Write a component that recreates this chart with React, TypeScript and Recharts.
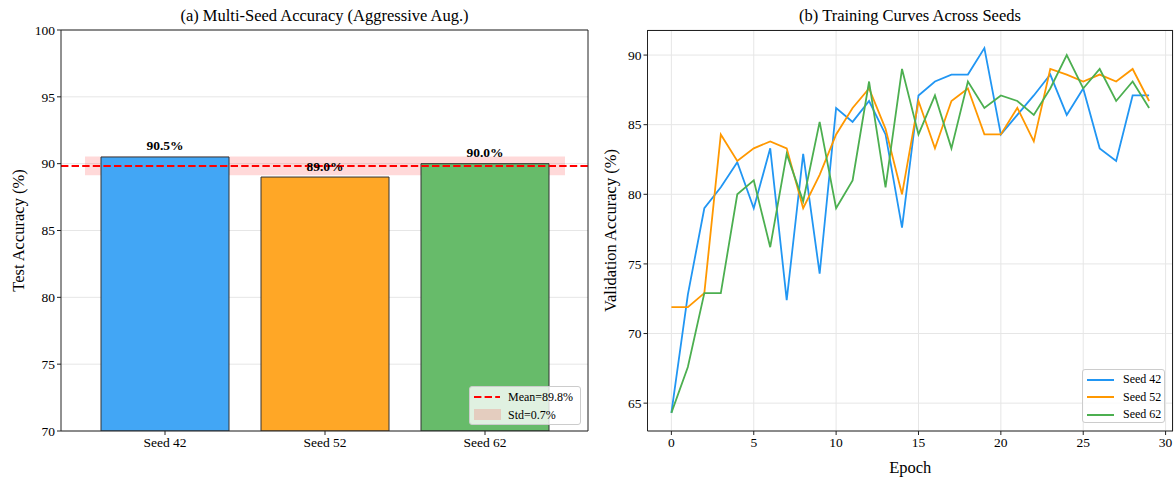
import React from 'react';
import {
  BarChart, Bar, LineChart, Line, XAxis, YAxis, CartesianGrid,
  ReferenceLine, ReferenceArea, LabelList, Cell, Legend,
} from 'recharts';

const seeds = ['Seed 42', 'Seed 52', 'Seed 62'];
const testAcc = [90.5, 89.0, 90.0];
const meanAcc = 89.83;
const stdAcc = 0.7;

const epochs = [0, 1, 2, 3, 4, 5, 6, 7, 8, 9, 10, 11, 12, 13, 14, 15, 16, 17, 18, 19, 20, 21, 22, 23, 24, 25, 26, 27, 28, 29];
const seed42 = [64.3, 72.8, 79.0, 80.5, 82.3, 79.0, 83.3, 72.4, 82.9, 74.3, 86.2, 85.2, 86.7, 84.3, 77.6, 87.1, 88.1, 88.6, 88.6, 90.5, 84.3, 85.7, 87.1, 88.6, 85.7, 87.6, 83.3, 82.4, 87.1, 87.1];
const seed52 = [71.9, 71.9, 72.9, 84.3, 82.4, 83.3, 83.8, 83.3, 79.0, 81.4, 84.3, 86.2, 87.6, 84.7, 80.0, 86.7, 83.3, 86.7, 87.6, 84.3, 84.3, 86.2, 83.8, 89.0, 88.6, 88.1, 88.6, 88.1, 89.0, 86.7];
const seed62 = [64.3, 67.6, 72.9, 72.9, 80.0, 81.0, 76.2, 82.9, 79.5, 85.2, 79.0, 81.0, 88.1, 80.5, 89.0, 84.3, 87.1, 83.3, 88.1, 86.2, 87.1, 86.7, 85.7, 87.6, 90.0, 87.6, 89.0, 86.7, 88.1, 86.2];

const accTicks = [70, 75, 80, 85, 90, 95, 100];
const valTicks = [65, 70, 75, 80, 85, 90];
const epochTicks = [0, 5, 10, 15, 20, 25, 30];

const barColors = ['#42A6F5', '#FFA726', '#67BB6A'];
const lineColors = ['#2196F3', '#FF9800', '#4CAF50'];

const FONT = "'Liberation Serif', 'Times New Roman', serif";
const AXIS = '#222';
const GRID = '#e6e6e6';

const barData = seeds.map((s, i) => ({ seed: s, acc: testAcc[i] }));
const curveData = epochs.map((e, i) => ({ epoch: e, s42: seed42[i], s52: seed52[i], s62: seed62[i] }));

const tickStyle = { fontSize: 13.5, fill: '#000', fontFamily: FONT };

const MeanStdLegend = () => (
  <div style={{
    width: 110, height: 37, border: '1px solid #ccc', borderRadius: 3,
    background: 'rgba(255,255,255,0.8)', fontFamily: FONT, fontSize: 12, color: '#000',
    boxSizing: 'content-box',
  }}>
    <div style={{ display: 'flex', alignItems: 'center', height: 18, marginTop: 1 }}>
      <svg width={38} height={10}>
        <line x1={4} x2={30} y1={5} y2={5} stroke="#ff0000" strokeWidth={2} strokeDasharray="7.4 3.2" />
      </svg>
      <span>Mean=89.8%</span>
    </div>
    <div style={{ display: 'flex', alignItems: 'center', height: 18 }}>
      <svg width={38} height={12}>
        <rect x={4} y={0} width={27} height={11} fill="rgba(255,0,0,0.15)" />
      </svg>
      <span>Std=0.7%</span>
    </div>
  </div>
);

const SeedLegend = () => (
  <div style={{
    width: 83, height: 54, border: '1px solid #ccc', borderRadius: 3,
    background: 'rgba(255,255,255,0.8)', fontFamily: FONT, fontSize: 12, color: '#000',
    paddingTop: 1, boxSizing: 'border-box',
  }}>
    {seeds.map((s, i) => (
      <div key={s} style={{ display: 'flex', alignItems: 'center', height: 17.5 }}>
        <svg width={40} height={6}>
          <line x1={4} x2={31} y1={3} y2={3} stroke={lineColors[i]} strokeWidth={2} />
        </svg>
        <span>{s}</span>
      </div>
    ))}
  </div>
);

const titleStyle: React.CSSProperties = {
  position: 'absolute', top: 6, lineHeight: '20px', fontSize: 16.5,
  fontFamily: FONT, color: '#000', textAlign: 'center', whiteSpace: 'nowrap',
};

// top/right spines: tickless secondary axes (1px so recharts still draws them)
const frameX = { orientation: 'top' as const, height: 1, tick: false, tickLine: false, axisLine: { stroke: AXIS } };
const frameY = { orientation: 'right' as const, width: 1, tick: false, tickLine: false, axisLine: { stroke: AXIS } };

export default function App() {
  return (
    <div style={{ position: 'absolute', left: 0, top: 0, width: 1174, height: 477, background: '#fff', fontFamily: FONT }}>
      <div style={{ ...titleStyle, left: 61, width: 527 }}>(a) Multi-Seed Accuracy (Aggressive Aug.)</div>
      <div style={{ ...titleStyle, left: 647, width: 526 }}>(b) Training Curves Across Seeds</div>

      <div style={{ position: 'absolute', left: 0, top: 0 }}>
        <BarChart width={600} height={477} data={barData} barCategoryGap={16}
          margin={{ top: 29, right: 11, bottom: 0, left: 0 }}>
          <CartesianGrid vertical={false} stroke={GRID} />
          <XAxis dataKey="seed" height={46} padding={{ left: 24, right: 23 }}
            tick={tickStyle} tickSize={4} tickMargin={2}
            tickLine={{ stroke: AXIS }} axisLine={{ stroke: AXIS }} />
          <XAxis xAxisId="top" dataKey="seed" {...frameX} />
          <YAxis domain={[70, 100]} ticks={accTicks} width={61} allowDataOverflow
            tick={tickStyle} tickSize={4} tickMargin={2}
            tickLine={{ stroke: AXIS }} axisLine={{ stroke: AXIS }}
            label={{ value: 'Test Accuracy (%)', angle: -90, position: 'insideLeft', offset: 18,
              style: { textAnchor: 'middle', fontSize: 16.5, fill: '#000', fontFamily: FONT } }} />
          <YAxis yAxisId="right" domain={[70, 100]} {...frameY} />
          <Bar dataKey="acc" stroke="#333" strokeWidth={1} isAnimationActive={false}>
            {barData.map((d, i) => <Cell key={d.seed} fill={barColors[i]} />)}
            <LabelList dataKey="acc" position="top" offset={6.5}
              formatter={(v: number) => `${v.toFixed(1)}%`}
              style={{ fontSize: 13.5, fontWeight: 'bold', fill: '#000', fontFamily: FONT }} />
          </Bar>
          <ReferenceArea x1="Seed 42" x2="Seed 62" y1={meanAcc - stdAcc} y2={meanAcc + stdAcc}
            fill="#ff0000" fillOpacity={0.15} stroke="none" />
          <ReferenceLine y={meanAcc} stroke="#ff0000" strokeWidth={2} strokeDasharray="7.4 3.2" />
          <Legend layout="vertical" align="center" verticalAlign="middle"
            content={() => <MeanStdLegend />}
            wrapperStyle={{ left: 469, top: 386, width: 'auto' }} />
        </BarChart>
      </div>

      <div style={{ position: 'absolute', left: 590, top: 0 }}>
        <LineChart width={584} height={477} data={curveData}
          margin={{ top: 30, right: 1, bottom: 0, left: 0 }}>
          <CartesianGrid stroke={GRID} />
          <XAxis dataKey="epoch" type="number" domain={[-1.45, 30.45]} ticks={epochTicks}
            allowDataOverflow height={46}
            tick={tickStyle} tickSize={4} tickMargin={2}
            tickLine={{ stroke: AXIS }} axisLine={{ stroke: AXIS }}
            label={{ value: 'Epoch', position: 'insideBottom', offset: 4,
              style: { fontSize: 16.5, fill: '#000', fontFamily: FONT } }} />
          <YAxis domain={[63, 91.8]} ticks={valTicks} width={57.5} allowDataOverflow
            tick={tickStyle} tickSize={4} tickMargin={2}
            tickLine={{ stroke: AXIS }} axisLine={{ stroke: AXIS }}
            label={{ value: 'Validation Accuracy (%)', angle: -90, position: 'insideLeft', offset: 20,
              style: { textAnchor: 'middle', fontSize: 16.5, fill: '#000', fontFamily: FONT } }} />
          <Line dataKey="s42" name="Seed 42" stroke={lineColors[0]} strokeWidth={1.8} dot={false} isAnimationActive={false} />
          <Line dataKey="s52" name="Seed 52" stroke={lineColors[1]} strokeWidth={1.8} dot={false} isAnimationActive={false} />
          <Line dataKey="s62" name="Seed 62" stroke={lineColors[2]} strokeWidth={1.8} dot={false} isAnimationActive={false} />
          <Legend layout="vertical" align="center" verticalAlign="middle"
            content={() => <SeedLegend />}
            wrapperStyle={{ left: 492, top: 369, width: 'auto' }} />
        </LineChart>
        {/* top/right spines of the curve panel */}
        <div style={{
          position: 'absolute', left: 57, top: 30, width: 526, height: 401,
          borderTop: `1px solid ${AXIS}`, borderRight: `1px solid ${AXIS}`,
          boxSizing: 'border-box', pointerEvents: 'none',
        }} />
      </div>
    </div>
  );
}
